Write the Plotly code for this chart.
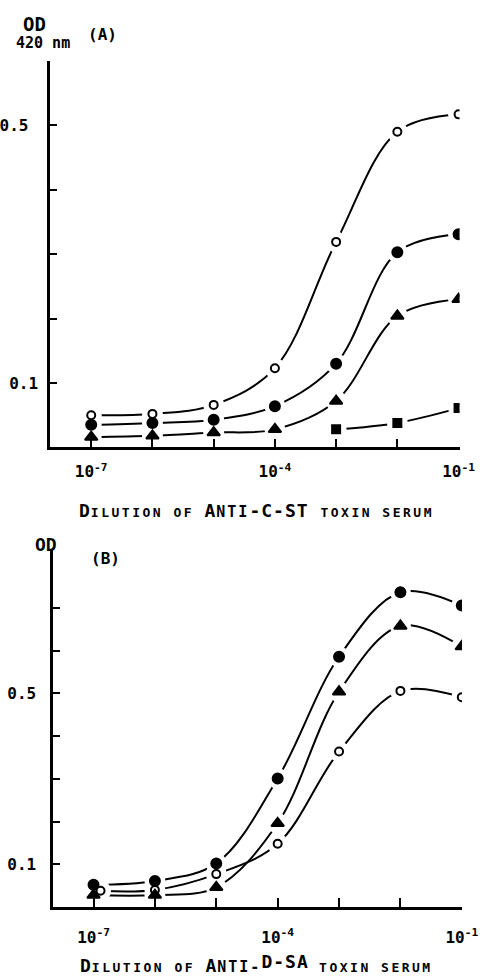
import plotly.graph_objects as go

# ---------------- data ----------------
dilution = [1e-7, 1e-6, 1e-5, 1e-4, 1e-3, 1e-2, 1e-1]

# Panel A (anti-C-ST toxin serum)
a_open = [0.050, 0.052, 0.066, 0.123, 0.319, 0.490, 0.517]
a_filled = [0.035, 0.038, 0.043, 0.064, 0.130, 0.303, 0.331]
a_triangle = [0.016, 0.018, 0.023, 0.028, 0.072, 0.204, 0.230]
a_square_x = [1e-3, 1e-2, 1e-1]
a_square = [0.028, 0.038, 0.061]

# Panel B (anti-D-SA toxin serum)
b_filled = [0.052, 0.061, 0.102, 0.301, 0.586, 0.737, 0.706]
b_triangle = [0.028, 0.028, 0.046, 0.196, 0.504, 0.658, 0.610]
b_open_x = [1.3e-7, 1e-6, 1e-5, 1e-4, 1e-3, 1e-2, 1e-1]
b_open = [0.038, 0.040, 0.077, 0.148, 0.364, 0.506, 0.491]

x_tickvals = dilution
x_ticktext = ["10<sup>-7</sup>", "", "", "10<sup>-4</sup>", "", "", "10<sup>-1</sup>"]
a_ytickvals = [0.1, 0.2, 0.3, 0.4, 0.5, 0.6]
a_yticktext = ["0.1", "", "", "", "0.5\u00a0", ""]
b_ytickvals = [0.1, 0.2, 0.3, 0.4, 0.5, 0.6, 0.7, 0.838]
b_yticktext = ["0.1", "", "", "", "0.5", "", "", ""]

# ---------------- figure ----------------
W, H = 492, 976
FONT = "DejaVu Sans Mono"


def px(x):
    return x / W


def py(y):
    return 1 - y / H


fig = go.Figure()

panels = [
    ("x", "y", [(dilution, a_open, "circle-open", 8),
                (dilution, a_filled, "circle", 10),
                (dilution, a_triangle, "triangle-up", 11),
                (a_square_x, a_square, "square", 8)]),
    ("x2", "y2", [(dilution, b_filled, "circle", 10),
                  (dilution, b_triangle, "triangle-up", 11),
                  (b_open_x, b_open, "circle-open", 8)]),
]

for xa, ya, series in panels:
    for xs, ys, sym, sz in series:
        fig.add_trace(go.Scatter(x=xs, y=ys, mode="lines", xaxis=xa, yaxis=ya,
                                 line=dict(color="black", width=2, shape="spline", smoothing=1.0),
                                 hoverinfo="skip", showlegend=False))
    for xs, ys, sym, sz in series:
        fig.add_trace(go.Scatter(x=xs, y=ys, mode="markers", xaxis=xa, yaxis=ya,
                                 marker=dict(symbol="circle", size=21, color="white", line=dict(width=0)),
                                 hoverinfo="skip", showlegend=False))
    for xs, ys, sym, sz in series:
        fig.add_trace(go.Scatter(x=xs, y=ys, mode="markers", xaxis=xa, yaxis=ya,
                                 marker=dict(symbol=sym, size=sz, color="black",
                                             line=dict(color="black", width=2)),
                                 showlegend=False))

axis_common = dict(showgrid=False, zeroline=False, showline=True, linecolor="black",
                   linewidth=2.5, ticks="inside", tickcolor="black", tickwidth=2,
                   tickfont=dict(family=FONT, size=16, color="black", weight="bold"))

fig.update_layout(
    width=W, height=H, autosize=False, margin=dict(l=0, r=0, t=0, b=0),
    paper_bgcolor="white", plot_bgcolor="white", showlegend=False,
    xaxis=dict(type="log", range=[-7.673, -0.984], domain=[px(51.7), px(475)],
               tickvals=x_tickvals, ticktext=x_ticktext, ticklen=9,
               ticklabelstandoff=8, anchor="y", **axis_common),
    yaxis=dict(range=[0, 0.6003], domain=[py(447.4), py(60.7)],
               tickvals=a_ytickvals, ticktext=a_yticktext, ticklen=7,
               ticklabelstandoff=6, anchor="x", **axis_common),
    xaxis2=dict(type="log", range=[-7.657, -0.997], domain=[px(55), px(477.5)],
                tickvals=x_tickvals, ticktext=x_ticktext, ticklen=9,
                ticklabelstandoff=14, anchor="y2", **axis_common),
    yaxis2=dict(range=[0, 0.8383], domain=[py(907), py(549)],
                tickvals=b_ytickvals, ticktext=b_yticktext, ticklen=7,
                ticklabelstandoff=11, anchor="x2", **axis_common),
)


def label(text, x, y, size):
    fig.add_annotation(text=text, x=px(x), y=py(y), xref="paper", yref="paper",
                       xanchor="center", yanchor="middle", showarrow=False,
                       font=dict(family=FONT, size=size, color="black", weight="bold"))


label("OD", 36, 24, 19)
label("420 nm", 44, 43.5, 15)
label("(A)", 106, 34.5, 16)
label("OD", 48, 544.5, 18)
label("(B)", 109, 558.5, 16)

SMALL = '<span style="font-size:13px;letter-spacing:2.5px">'
MID = '<span style="font-size:15px;letter-spacing:2px">'
BIG = '<span style="font-size:18px;letter-spacing:1px">'
E = "</span>"

title_a = (BIG + "D" + E + SMALL + "ILUTION OF " + E + BIG + "A" + E + MID + "NTI" + E +
           BIG + "-C-ST " + E + SMALL + "TOXIN SERUM" + E)
title_b = (BIG + "D" + E + SMALL + "ILUTION OF " + E + BIG + "A" + E + MID + "NTI-" + E +
           '<span style="font-size:18px;letter-spacing:1px;baseline-shift:4px">D-SA</span>' +
           SMALL + " TOXIN SERUM" + E)
label(title_a, 265, 510, 16)
label(title_b, 265, 963, 16)

post = ("document.documentElement.style.overflow='hidden';"
        "document.body.style.margin='0';document.body.style.overflow='hidden';")

fig.write_html("out.html", config={"displayModeBar": False, "responsive": False},
               post_script=post)
